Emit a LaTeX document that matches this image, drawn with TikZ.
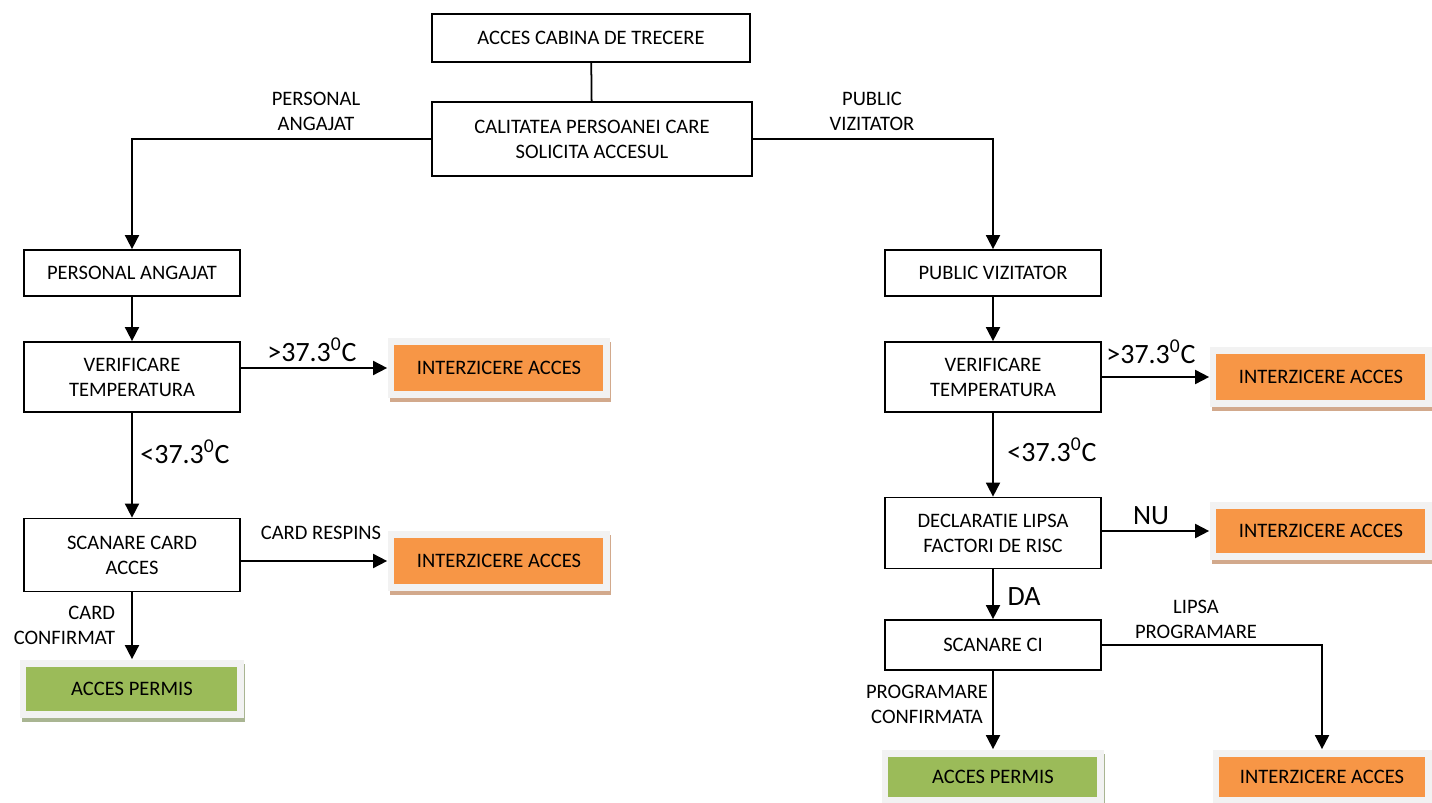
\documentclass[tikz,border=0pt]{standalone}
\usepackage{fontspec}
\setmainfont{Carlito}
\usetikzlibrary{shadows,arrows.meta}

\definecolor{denyorange}{HTML}{F79646}
\definecolor{denyshade}{HTML}{D2A98C}
\definecolor{allowgreen}{HTML}{9BBB59}
\definecolor{allowshade}{HTML}{A9B592}
\definecolor{framegray}{HTML}{F2F2F2}

\begin{document}
\begin{tikzpicture}[>={Triangle[length=8pt,width=8pt]}, x=0.02cm, y=-0.02cm, line width=1pt,
    box/.style={draw, align=center, inner sep=0pt, minimum width=4.32cm,
        font=\fontsize{11.7}{14.2}\selectfont},
    tile/.style 2 args={fill=framegray, inner sep=0pt, minimum width=4.44cm,
        minimum height=1.2cm, font=\fontsize{11.7}{14.2}\selectfont,
        path picture={\fill[#1] ([shift={(0.12cm,-0.14cm)}]path picture bounding box.north west)
            rectangle ([shift={(-0.14cm,0.14cm)}]path picture bounding box.south east);},
        general shadow={fill=#2, shadow xshift=0.03cm, shadow yshift=-0.08cm}},
    deny/.style={tile={denyorange}{denyshade}},
    allow/.style={tile={allowgreen}{allowshade}},
    lbl/.style={align=center, inner sep=0pt, font=\fontsize{11.7}{14.2}\selectfont},
    biglbl/.style={inner sep=0pt, font=\fontsize{15.9}{19}\selectfont}]

    % Keeps the page at the size of the reference
    \useasboundingbox (0,0) rectangle (1432,803);

    % Draws the two boxes at the top
    \node[box, minimum width=6.36cm, minimum height=0.96cm] (cabin) at (591,38) {ACCES CABINA DE TRECERE};
    \node[box, minimum width=6.4cm, minimum height=1.48cm] (calit) at (592,139)
        {CALITATEA PERSOANEI CARE\\SOLICITA ACCESUL};

    % Draws the left column, for the staff
    \node[box, minimum height=0.92cm] (staff) at (132,273) {PERSONAL ANGAJAT};
    \node[box, minimum height=1.4cm] (tempL) at (132,377) {VERIFICARE\\TEMPERATURA};
    \node[box, minimum height=1.46cm] (card) at (132,555) {SCANARE CARD\\ACCES};
    \node[deny] (denyA) at (499,368) {INTERZICERE ACCES};
    \node[deny] (denyB) at (499,561) {INTERZICERE ACCES};
    \node[allow, minimum width=4.48cm, minimum height=1.16cm] (okL) at (132,689) {ACCES PERMIS};

    % Draws the right column, for the visitors
    \node[box, minimum height=0.92cm] (visit) at (993,273) {PUBLIC VIZITATOR};
    \node[box, minimum height=1.4cm] (tempR) at (993,377) {VERIFICARE\\TEMPERATURA};
    \node[box, minimum height=1.42cm] (risk) at (993,533) {DECLARATIE LIPSA\\FACTORI DE RISC};
    \node[box, minimum height=1.0cm] (idcard) at (993,645) {SCANARE CI};
    \node[deny] (denyC) at (1321,377) {INTERZICERE ACCES};
    \node[deny, minimum height=1.16cm] (denyD) at (1321,531) {INTERZICERE ACCES};
    \node[allow, minimum height=1.08cm] (okR) at (993,777) {ACCES PERMIS};
    \node[deny, minimum width=4.38cm, minimum height=1.08cm] (denyE) at (1322,777) {INTERZICERE ACCES};

    % Draws the connectors of the top part
    \draw (cabin) -- (calit);
    \draw[->] (calit.west) -| (staff.north);
    \draw[->] (calit.east) -| (visit.north);

    % Draws the connectors of the left column
    \draw[->] (staff) -- (tempL);
    \draw[->] (tempL.east |- denyA) -- (denyA);
    \draw[->] (tempL) -- (card);
    \draw[->] (card.east |- denyB) -- (denyB);
    \draw[->] (card) -- (okL);

    % Draws the connectors of the right column
    \draw[->] (visit) -- (tempR);
    \draw[->] (tempR) -- (denyC);
    \draw[->] (tempR) -- (risk);
    \draw[->] (risk.east |- denyD) -- (denyD);
    \draw[->] (risk) -- (idcard);
    \draw[->] (idcard) -- (okR);
    \draw[->] (idcard.east) -| (denyE.north);

    % Writes the labels of the branches
    \node[lbl] (staffL) at (316,111) {PERSONAL\\ANGAJAT};
    \node[lbl] (visitL) at (872,111) {PUBLIC\\VIZITATOR};
    \node[biglbl] (hotL) at (312,350) {>37.3\textsuperscript{0}C};
    \node[biglbl] (coldL) at (185,452) {<37.3\textsuperscript{0}C};
    \node[lbl] (rejL) at (321,533) {CARD RESPINS};
    \node[lbl, align=right, anchor=east] (confL) at (116,625) {CARD\\CONFIRMAT};
    \node[biglbl] (hotR) at (1151,352) {>37.3\textsuperscript{0}C};
    \node[biglbl] (coldR) at (1052,450) {<37.3\textsuperscript{0}C};
    \node[biglbl] (noL) at (1151,516) {NU};
    \node[biglbl] (yesL) at (1024,597) {DA};
    \node[lbl] (missL) at (1196,619) {LIPSA\\PROGRAMARE};
    \node[lbl] (progL) at (927,704) {PROGRAMARE\\CONFIRMATA};

\end{tikzpicture}
\end{document}
